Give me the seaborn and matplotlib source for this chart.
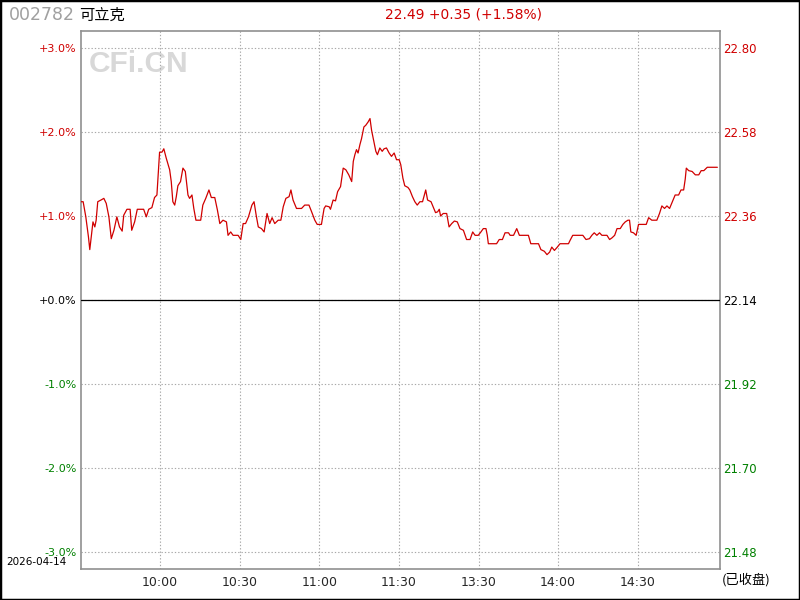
import matplotlib
matplotlib.use("Agg")
import matplotlib.pyplot as plt
import seaborn as sns
import pandas as pd
from matplotlib.patches import Rectangle

# minutes since 9:30 (lunch break removed), change vs previous close in %
minutes = [0, 1, 2, 3, 3.5, 4.7, 5.4, 5.9, 6.5, 7.7, 8.8, 9.7, 10.7, 11.6, 12.6, 13.7, 14.7, 15.7,
           16.3, 17.5, 18.7, 19.3, 20.4, 21.4, 23.8, 24.8, 25.7, 26.9, 27.9, 28.8, 29.2, 29.8,
           30.7, 31.4, 32.3, 33.6, 34.2, 34.8, 35.5, 36.1, 36.7, 37.7, 38.6, 39.5, 40.5, 41.1,
           42.0, 42.7, 43.5, 45.3, 46.1, 47.2, 48.4, 49.3, 50.6, 51.6, 52.5, 53.7, 55.0, 55.6,
           56.6, 57.5, 59.4, 60.4, 61.3, 62.2, 63.3, 64.6, 65.4, 66.2, 67.0, 68.2, 69.2, 70.3,
           71.3, 72.2, 73.2, 74.5, 75.5, 76.4, 77.4, 78.6, 79.3, 80.1, 81.4, 83.3, 84.5, 86.1,
           87.1, 88.3, 89.2, 90.8, 91.8, 92.4, 93.7, 94.2, 95.2, 96.1, 96.9, 98.0, 99.0, 100.0,
           101.1, 102.2, 102.8, 103.4, 104.0, 104.6, 105.3, 105.9, 106.8, 107.5, 108.4, 109.1,
           109.7, 110.6, 111.3, 111.9, 112.8, 113.7, 114.4, 115.3, 116.3, 117.2, 118.2, 119.1,
           120.1, 120.7, 121.5, 122.2, 123.4, 124.1, 125.1, 126.0, 126.9, 127.9, 128.9, 129.6,
           130.1, 130.8, 132.1, 132.9, 133.8, 134.6, 135.2, 135.7, 136.7, 138.0, 138.9, 139.9,
           140.9, 142.0, 143.0, 144.3, 145.5, 146.8, 147.8, 148.7, 149.9, 150.9, 151.8, 152.8,
           153.3, 153.7, 156.8, 157.8, 159.0, 160.0, 161.3, 161.9, 163.2, 164.4, 165.4, 168.8,
           169.7, 172.6, 173.5, 174.8, 175.8, 176.8, 177.6, 178.6, 179.7, 180.7, 183.9, 184.5,
           185.5, 189.3, 190.5, 191.8, 192.7, 193.6, 194.6, 195.6, 196.5, 198.4, 199.4, 200.3,
           201.3, 202.2, 203.4, 204.4, 205.3, 206.3, 206.9, 207.4, 208.4, 209.4, 210.3, 213.2,
           214.1, 215.3, 217.2, 218.2, 219.1, 220.1, 221.0, 222.0, 223.3, 224.1, 225.4, 226.3,
           227.3, 227.9, 228.3, 229.2, 230.5, 231.7, 233.0, 233.9, 234.9, 236.2, 240]
pct = [1.17, 1.17, 0.99, 0.75, 0.60, 0.93, 0.87, 0.95, 1.17, 1.19, 1.21, 1.15, 0.99, 0.73, 0.83, 0.99, 0.87, 0.82,
       1.01, 1.08, 1.08, 0.83, 0.93, 1.08, 1.08, 0.99, 1.08, 1.10, 1.22, 1.25, 1.45, 1.76,
       1.76, 1.80, 1.69, 1.55, 1.41, 1.17, 1.13, 1.23, 1.36, 1.41, 1.57, 1.53, 1.25, 1.21,
       1.25, 1.09, 0.95, 0.95, 1.13, 1.21, 1.31, 1.22, 1.22, 1.07, 0.91, 0.95, 0.93, 0.77,
       0.81, 0.77, 0.77, 0.72, 0.91, 0.91, 0.99, 1.13, 1.17, 1.01, 0.87, 0.85, 0.81, 1.03,
       0.91, 0.98, 0.91, 0.95, 0.95, 1.11, 1.21, 1.23, 1.31, 1.19, 1.09, 1.09, 1.13, 1.13,
       1.05, 0.95, 0.90, 0.90, 1.09, 1.12, 1.11, 1.08, 1.19, 1.18, 1.29, 1.35, 1.57, 1.55,
       1.49, 1.41, 1.65, 1.73, 1.79, 1.75, 1.85, 1.92, 2.06, 2.08, 2.12, 2.16,
       2.02, 1.88, 1.77, 1.73, 1.81, 1.77, 1.80, 1.81, 1.75, 1.71, 1.75, 1.67,
       1.67, 1.61, 1.45, 1.36, 1.34, 1.31, 1.23, 1.17, 1.13, 1.17, 1.17, 1.25,
       1.31, 1.19, 1.17, 1.11, 1.04, 1.05, 1.08, 1.00, 1.03, 1.03, 0.87, 0.91,
       0.94, 0.93, 0.85, 0.83, 0.72, 0.72, 0.81, 0.77, 0.77, 0.81, 0.85, 0.85,
       0.77, 0.67, 0.67, 0.72, 0.72, 0.80, 0.80, 0.77, 0.77, 0.85, 0.77, 0.77,
       0.67, 0.67, 0.60, 0.58, 0.54, 0.57, 0.63, 0.59, 0.63, 0.67, 0.67, 0.71,
       0.77, 0.77, 0.72, 0.73, 0.77, 0.80, 0.77, 0.80, 0.77, 0.77, 0.72, 0.74,
       0.77, 0.85, 0.85, 0.90, 0.93, 0.95, 0.95, 0.81, 0.80, 0.77, 0.90, 0.90,
       0.98, 0.95, 0.95, 1.03, 1.12, 1.09, 1.12, 1.09, 1.19, 1.25, 1.25, 1.31,
       1.31, 1.44, 1.57, 1.54, 1.53, 1.49, 1.49, 1.54, 1.54, 1.58, 1.58]

pct_ticks = [-3, -2, -1, 0, 1, 2, 3]
pct_labels = ["-3.0%", "-2.0%", "-1.0%", "+0.0%", "+1.0%", "+2.0%", "+3.0%"]
price_labels = ["21.48", "21.70", "21.92", "22.14", "22.36", "22.58", "22.80"]
time_ticks = [30, 60, 90, 120, 150, 180, 210]
time_labels = ["10:00", "10:30", "11:00", "11:30", "13:30", "14:00", "14:30"]

code = "002782"
name = "可立克"
quote = "22.49 +0.35 (+1.58%)"
date = "2026-04-14"

RED = "#d00000"
GREEN = "#008000"

sns.set_style("white")
plt.rcParams['font.family'] = ['DejaVu Sans', 'Noto Sans CJK SC']

df = pd.DataFrame({"t": minutes, "pct": pct})

fig = plt.figure(figsize=(8, 6), dpi=100)
fig.patches.append(Rectangle((0, 0), 1, 1, transform=fig.transFigure, fill=False,
                             edgecolor="black", linewidth=2.5))
ax = fig.add_axes([80.5 / 800, 31 / 600, 639.5 / 800, 538 / 600])
ax.set_axisbelow(True)

# watermark, under the grid
ax.text(89 / 800, 1 - 64 / 600, "CFi.CN", color="#d8d8d8", fontsize=21.5, fontweight="bold",
        family="Liberation Sans", va="center", ha="left", transform=fig.transFigure, zorder=0)

sns.lineplot(data=df, x="t", y="pct", color=RED, linewidth=0.9, sort=False,
             estimator=None, ax=ax, zorder=5)
ax.axhline(0, color="black", linewidth=0.9, zorder=4)

ax.set_xlim(0, 241)
ax.set_ylim(-3.2024, 3.2024)
ax.set_xticks(time_ticks)
ax.set_xticklabels(time_labels, fontsize=9)
ax.set_yticks(pct_ticks)
ax.set_yticklabels(pct_labels, fontsize=8)
ax.tick_params(axis="both", length=0, pad=3)
ax.tick_params(axis="x", pad=5)
for lab, v in zip(ax.get_yticklabels(), pct_ticks):
    lab.set_color(RED if v > 0 else (GREEN if v < 0 else "black"))
ax.set_xlabel("")
ax.set_ylabel("")
ax.grid(True, color="#a8a8a8", linestyle=(0, (1.2, 1.8)), linewidth=0.8)
for s in ax.spines.values():
    s.set_color("#909090")
    s.set_linewidth(1.2)

ax2 = ax.twinx()
ax2.set_ylim(ax.get_ylim())
ax2.set_yticks(pct_ticks)
ax2.set_yticklabels(price_labels, fontsize=8.5)
ax2.tick_params(axis="y", length=0, pad=2)
for lab, v in zip(ax2.get_yticklabels(), pct_ticks):
    lab.set_color(RED if v > 0 else (GREEN if v < 0 else "black"))
for s in ax2.spines.values():
    s.set_visible(False)

fig.text(9 / 800, 1 - 15 / 600, code, color="#a0a0a0", fontsize=12.5, va="center", ha="left")
fig.text(79 / 800, 1 - 15 / 600, name, color="black", fontsize=11, va="center", ha="left",
         family=['Noto Sans CJK SC', 'DejaVu Sans'])
fig.text(464 / 800, 1 - 15 / 600, quote, color=RED, fontsize=10, va="center", ha="center")
fig.text(6 / 800, 1 - 562 / 600, date, color="black", fontsize=7.5, va="center", ha="left")
fig.text(722 / 800, 1 - 580 / 600, "(已收盘)", color="black", fontsize=9.5, va="center", ha="left",
         family=['Noto Sans CJK SC', 'DejaVu Sans'])

fig.savefig("out.png", dpi=100)
